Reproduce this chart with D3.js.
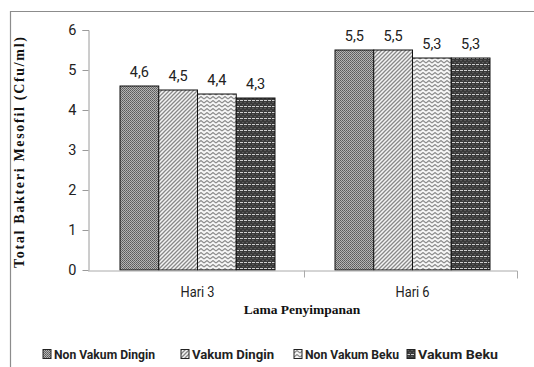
<!DOCTYPE html>
<html><head><meta charset="utf-8">
<script src="https://cdn.jsdelivr.net/npm/d3@7"></script>
<style>body{margin:0;background:#fff}svg{display:block}</style>
</head><body>
<svg id="c" width="534" height="367"></svg>
<script>
const categories = ["Hari 3", "Hari 6"];
const seriesNames = ["Non Vakum Dingin", "Vakum Dingin", "Non Vakum Beku", "Vakum Beku"];
const nonVakumDingin = [4.6, 5.5];
const vakumDingin = [4.5, 5.5];
const nonVakumBeku = [4.4, 5.3];
const vakumBeku = [4.3, 5.3];
const yTicks = [0, 1, 2, 3, 4, 5, 6];
const valueLabels = [["4,6","5,5"],["4,5","5,5"],["4,4","5,3"],["4,3","5,3"]];

const seriesValues = [nonVakumDingin, vakumDingin, nonVakumBeku, vakumBeku];
const svg = d3.select("#c");
const narrow = "Roboto,'Liberation Sans Narrow',sans-serif";

// patterns
const defs = svg.append("defs");
let p = defs.append("pattern").attr("id","p0").attr("width",2).attr("height",2).attr("patternUnits","userSpaceOnUse");
p.append("rect").attr("width",2).attr("height",2).attr("fill","#b4b4b4");
p.append("rect").attr("width",1).attr("height",1).attr("fill","#5a5a5a");
p.append("rect").attr("x",1).attr("y",1).attr("width",1).attr("height",1).attr("fill","#6a6a6a");

p = defs.append("pattern").attr("id","p1").attr("width",4).attr("height",4).attr("patternUnits","userSpaceOnUse");
p.append("rect").attr("width",4).attr("height",4).attr("fill","#f4f4f4");
p.append("path").attr("d","M0,4 L4,0 M-1,1 L1,-1 M3,5 L5,3").attr("stroke","#888").attr("stroke-width",1.3);

p = defs.append("pattern").attr("id","p2").attr("width",6).attr("height",4).attr("patternUnits","userSpaceOnUse");
p.append("rect").attr("width",6).attr("height",4).attr("fill","#f6f6f6");
p.append("path").attr("d","M0,3 L3,0.5 L6,3").attr("fill","none").attr("stroke","#8a8a8a").attr("stroke-width",1.1);

p = defs.append("pattern").attr("id","p3").attr("width",4).attr("height",6).attr("patternUnits","userSpaceOnUse");
p.append("rect").attr("width",4).attr("height",6).attr("fill","#3a3a3a");
p.append("rect").attr("x",0).attr("y",0).attr("width",2).attr("height",1).attr("fill","#5a5a5a");
p.append("rect").attr("x",2).attr("y",2).attr("width",2).attr("height",1).attr("fill","#5a5a5a");
p.append("rect").attr("x",0).attr("y",4).attr("width",3).attr("height",1).attr("fill","#d0d0d0");

// frame
svg.append("path").attr("d","M10.5,367 L10.5,11.5 L534,11.5").attr("fill","none").attr("stroke","#8c8c8c").attr("stroke-width",1.2);

const x0 = d3.scaleBand().domain(categories).range([90, 520]).paddingInner(0).paddingOuter(0);
const x1 = d3.scaleBand().domain(seriesNames).range([0, 155]);
const groupW = 155;
const y = d3.scaleLinear().domain([0, 6]).range([270, 30]);

// y axis
const ya = svg.append("g").attr("transform","translate(88.5,0)")
  .call(d3.axisLeft(y).tickValues(yTicks).tickSize(6).tickPadding(6).tickFormat(d3.format("d")));
ya.select(".domain").attr("stroke","#9a9a9a").attr("d","M-6,30.5H0.5V270.5");
ya.selectAll(".tick line").attr("stroke","#9a9a9a");
ya.selectAll(".tick text").attr("font-family",narrow).attr("font-size",14.5).attr("fill","#222");

// bars
seriesValues.forEach((vals, si) => {
  svg.append("g").selectAll("rect").data(vals).join("rect")
    .attr("x", (d,i) => x0(categories[i]) + x0.bandwidth()/2 - groupW/2 + x1(seriesNames[si]))
    .attr("y", d => y(d))
    .attr("width", x1.bandwidth())
    .attr("height", d => y(0) - y(d))
    .attr("fill", `url(#p${si})`)
    .attr("stroke","#111").attr("stroke-width",1);
  svg.append("g").selectAll("text").data(vals).join("text")
    .attr("x", (d,i) => x0(categories[i]) + x0.bandwidth()/2 - groupW/2 + x1(seriesNames[si]) + x1.bandwidth()/2)
    .attr("y", d => y(d) - 9)
    .attr("text-anchor","middle").attr("font-family",narrow).attr("font-size",14.5).attr("fill","#222")
    .text((d,i) => valueLabels[si][i]);
});

// x axis
const xa = svg.append("g").attr("transform","translate(0,270.5)")
  .call(d3.axisBottom(x0).tickSize(0).tickPadding(16));
xa.select(".domain").attr("stroke","#aaa").attr("d","M88,0.5H517.5V8");
xa.selectAll(".tick text").attr("font-family",narrow).attr("font-size",14.5).attr("fill","#222")
  .attr("textLength",34).attr("lengthAdjust","spacingAndGlyphs");
xa.append("line").attr("x1",304.5).attr("x2",304.5).attr("y1",0).attr("y2",7).attr("stroke","#aaa");

// axis titles
svg.append("text").attr("x",302).attr("y",314).attr("text-anchor","middle")
  .attr("font-family","'Liberation Serif','Times New Roman',serif").attr("font-weight","bold").attr("font-size",13.5).attr("fill","#111")
  .text("Lama Penyimpanan");
svg.append("text").attr("transform","translate(24,152) rotate(-90)").attr("text-anchor","middle")
  .attr("font-family","'Liberation Serif','Times New Roman',serif").attr("font-weight","bold").attr("font-size",14).attr("letter-spacing",1)
  .attr("textLength",232).attr("lengthAdjust","spacing").attr("fill","#111")
  .text("Total Bakteri Mesofil (Cfu/ml)");

// legend
const legX = [43, 181, 294, 407];
const legW = [101, 82, 94, 80];
const lg = svg.append("g").selectAll("g").data(seriesNames).join("g")
  .attr("transform",(d,i)=>`translate(${legX[i]},350)`);
lg.append("rect").attr("x",0).attr("y",-0.5).attr("width",8).attr("height",9)
  .attr("fill",(d,i)=>`url(#p${i})`).attr("stroke","#222").attr("stroke-width",1);
lg.append("text").attr("x",11).attr("y",8.5).attr("font-family",narrow).attr("font-weight","bold")
  .attr("font-size",12.5).attr("fill","#222")
  .attr("textLength",(d,i)=>legW[i]).attr("lengthAdjust","spacingAndGlyphs").text(d=>d);
</script>
</body></html>
